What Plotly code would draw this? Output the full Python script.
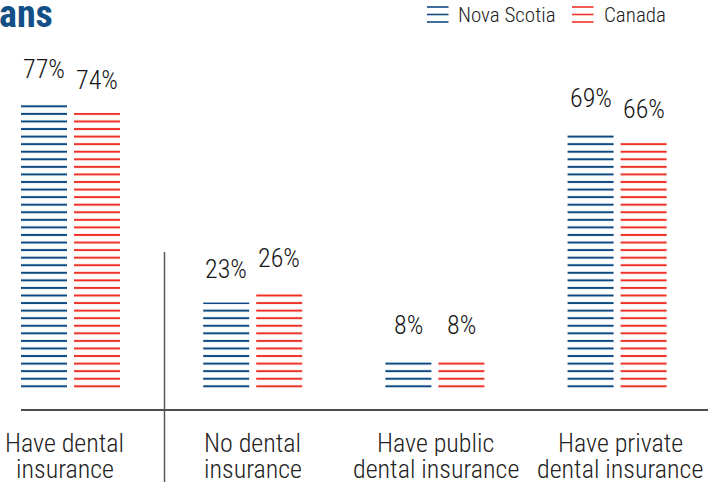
import plotly.graph_objects as go

# ---- data ----
categories = ["Have dental\ninsurance", "No dental\ninsurance",
              "Have public\ndental insurance", "Have private\ndental insurance"]
nova_scotia = [77, 23, 8, 69]
canada = [74, 26, 8, 66]
series_names = ["Nova Scotia", "Canada"]
title_text = "ans"

# ---- style ----
BLUE = "#0E4A82"
RED = "#EE3228"
TITLE_BLUE = "#134E86"
FONT = "Roboto Condensed, Roboto, sans-serif"
W, H = 708, 487
ML, MR, MT, MB = 0, 0, 42, 77
PH = H - MT - MB
Y0_PX, PX_PER_UNIT = 388, 3.72
LABEL_XSHIFT = [-6, 0, 1, 3]


def pxx(x):
    return (x - ML) / (W - ML - MR)


def pxy(y):
    return (H - MB - y) / PH


idx = list(range(len(categories)))

fig = go.Figure()
for name, vals, col in [(series_names[0], nova_scotia, BLUE), (series_names[1], canada, RED)]:
    fig.add_trace(go.Bar(
        x=idx, y=vals, name=name,
        marker=dict(color=col, line=dict(width=0),
                    pattern=dict(shape="-", size=7.567, solidity=0.27, fillmode="replace")),
        showlegend=False, hoverinfo="skip",
    ))

annotations = []
# value labels
for vals, shift in [(nova_scotia, -26.5), (canada, 26.5)]:
    for i, v in zip(idx, vals):
        annotations.append(dict(
            x=i, y=v, xref="x", yref="y", text=f"{v}%", showarrow=False,
            xshift=shift, yshift=33, yanchor="middle", xanchor="center",
            font=dict(family=FONT, size=26, color="#151515", weight=300),
        ))
# category labels (one annotation per line, tight line spacing)
for i, cat in zip(idx, categories):
    for k, line in enumerate(cat.split("\n")):
        annotations.append(dict(
            x=i, y=pxy(443 + 26 * k), xref="x", yref="paper", text=line,
            xshift=LABEL_XSHIFT[i], borderpad=0, height=26, valign="middle",
            showarrow=False, xanchor="center", yanchor="middle",
            font=dict(family=FONT, size=26, color="#222222", weight=300),
        ))
# title fragment
annotations.append(dict(
    x=pxx(55), y=pxy(14), xref="paper", yref="paper", text=f"<b>{title_text}</b>",
    showarrow=False, xanchor="right", yanchor="middle",
    font=dict(family=FONT, size=38, color=TITLE_BLUE),
))
# legend text
for name, xl in [(series_names[0], 458), (series_names[1], 604)]:
    annotations.append(dict(
        x=pxx(xl - 2), y=pxy(15), xref="paper", yref="paper", text=name,
        showarrow=False, xanchor="left", yanchor="middle",
        font=dict(family=FONT, size=21, color="#222222", weight=300),
    ))

shapes = []
# baseline
shapes.append(dict(type="line", xref="paper", yref="paper", x0=pxx(21), x1=1, y0=0, y1=0,
                   line=dict(color="#111111", width=1.5)))
# separator
shapes.append(dict(type="line", xref="paper", yref="paper", x0=pxx(164.5), x1=pxx(164.5),
                   y0=pxy(482), y1=pxy(252), line=dict(color="#555555", width=1.5)))
# legend icons
for col, x0 in [(BLUE, 427), (RED, 572)]:
    for ly in (7, 14.5, 22):
        shapes.append(dict(type="line", xref="paper", yref="paper", x0=pxx(x0), x1=pxx(x0 + 21.5),
                           y0=pxy(ly), y1=pxy(ly), line=dict(color=col, width=1.6)))

fig.update_layout(
    width=W, height=H, margin=dict(l=ML, r=MR, t=MT, b=MB),
    paper_bgcolor="white", plot_bgcolor="white",
    barmode="group", bargap=0.418, bargroupgap=0.132,
    xaxis=dict(range=[-70.5 / 182.2, (W - 70.5) / 182.2], showticklabels=False,
               showgrid=False, zeroline=False, showline=False, ticks=""),
    yaxis=dict(range=[-(H - MB - Y0_PX) / PX_PER_UNIT, (Y0_PX - MT) / PX_PER_UNIT],
               showticklabels=False, showgrid=False, zeroline=False, showline=False, ticks=""),
    annotations=annotations, shapes=shapes, showlegend=False,
)

fig.write_html("out.html", config={"displayModeBar": False},
               post_script="document.body.style.margin='0';document.body.style.overflow='hidden';")
